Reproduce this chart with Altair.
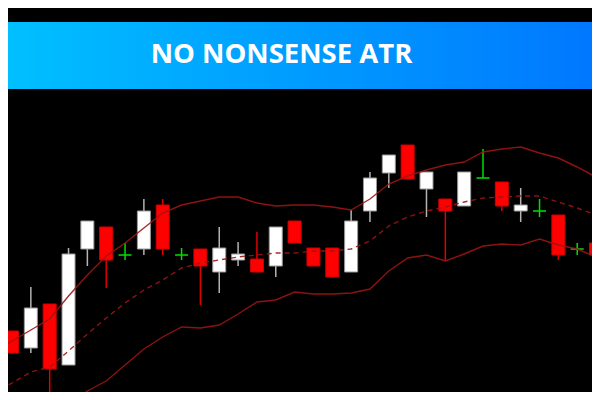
import altair as alt
import pandas as pd

# ---- data (price units arbitrary) ----
kind  = ["down","up","down","up","up","down","doji","up","down","doji",
         "down","up","up","down","up","down","down","down","up","up",
         "up","down","up","down","up","doji","down","up","doji","down",
         "doji","down"]
open_ = [69,52,96,35,151,173,145,151,195,145,
         151,128,140,141,134,179,152,152,128,189,
         227,255,211,201,194,222,218,189,189,185,
         151,157]
close = [47,92,31,146,179,140,145,189,151,145,
         134,152,146,128,173,157,134,123,179,222,
         245,221,228,189,228,222,194,195,189,145,
         151,145]
high  = [69,113,96,152,179,173,157,201,201,152,
         151,173,158,168,173,179,152,152,190,228,
         245,255,228,201,228,251,218,212,201,185,
         157,157]
low   = [47,47,-10,35,134,112,140,145,145,140,
         95,107,134,128,123,157,134,123,128,178,
         212,221,183,139,194,222,189,178,183,140,
         145,140]

line_idx = list(range(-1, 33))
upper = [49,59,70,81,104,125,144,157,172,187,195,199,203,203,197,194,195,
         195,193,190,201,216,224,230,235,238,248,251,253,247,242,233,223,214]
mid   = [6,17,28,33,49,66,82,97,110,120,132,137,140,143,145,147,147,149,
         149,151,159,174,183,189,193,198,202,203,204,204,198,192,185,179]
lower = [-45,-35,-25,-15,-5,9,19,35,51,63,73,72,75,86,98,100,108,106,106,
         107,111,129,142,145,139,146,154,156,155,161,155,151,143,137]

title_text = "NO NONSENSE ATR"

candles = pd.DataFrame({"i": list(range(len(kind))), "kind": kind,
                        "open": open_, "close": close, "high": high, "low": low})
bands = pd.DataFrame({"i": line_idx, "upper": upper, "mid": mid, "lower": lower})

W, H = 584, 384
xs = alt.Scale(domain=[-0.2123, 30.785], nice=False, zero=False, padding=0)
ys = alt.Scale(domain=[8, 392], nice=False, zero=False, padding=0)
X = alt.X("i:Q", scale=xs, axis=None)

wick_col = alt.Scale(domain=["up", "down", "doji"], range=["#B4B4B4", "#E00000", "#00E000"])
body_fill = alt.Scale(domain=["up", "down"], range=["#FFFFFF", "#FF0000"])
body_stroke = alt.Scale(domain=["up", "down"], range=["#9A9A9A", "#D00000"])

base = alt.Chart(candles)

wicks = base.mark_rule(strokeWidth=1.5, clip=True).encode(
    x=X,
    y=alt.Y("low:Q", scale=ys, axis=None),
    y2="high:Q",
    color=alt.Color("kind:N", scale=wick_col, legend=None),
)

bodies = base.transform_filter(alt.datum.kind != "doji").mark_bar(
    size=13, strokeWidth=1, clip=True
).encode(
    x=X,
    y=alt.Y("open:Q", scale=ys, axis=None),
    y2="close:Q",
    fill=alt.Fill("kind:N", scale=body_fill, legend=None),
    stroke=alt.Stroke("kind:N", scale=body_stroke, legend=None),
)

doji = base.transform_filter(alt.datum.kind == "doji").mark_tick(
    orient="horizontal", size=13, thickness=1.5, color="#00E000", opacity=1, clip=True
).encode(
    x=X,
    y=alt.Y("open:Q", scale=ys, axis=None),
)

lb = alt.Chart(bands)
line_col = "#9C1414"
up_line = lb.mark_line(color=line_col, strokeWidth=1.4, clip=True, opacity=0.9).encode(
    x=X, y=alt.Y("upper:Q", scale=ys, axis=None))
mid_line = lb.mark_line(color=line_col, strokeWidth=1.4, clip=True, opacity=0.9,
                        strokeDash=[5, 4]).encode(
    x=X, y=alt.Y("mid:Q", scale=ys, axis=None))
low_line = lb.mark_line(color=line_col, strokeWidth=1.4, clip=True, opacity=0.9).encode(
    x=X, y=alt.Y("lower:Q", scale=ys, axis=None))

one = alt.Data(values=[{"t": title_text}])
banner = alt.Chart(one).mark_rect(
    color=alt.Gradient(
        gradient="linear",
        stops=[alt.GradientStop(color="#00C0FF", offset=0),
               alt.GradientStop(color="#0078FF", offset=1)],
        x1=0, x2=1, y1=0, y2=0,
    )
).encode(x=alt.value(0), x2=alt.value(W), y=alt.value(14), y2=alt.value(81))

title = alt.Chart(one).mark_text(
    font="Open Sans", fontWeight="bold", fontSize=27.5, color="white",
    align="center", baseline="alphabetic"
).encode(x=alt.value(273.5), y=alt.value(55), text="t:N")

chart = alt.layer(
    banner, wicks, bodies, doji, up_line, mid_line, low_line, title
).properties(
    width=W, height=H, background="black", padding=0,
    autosize=alt.AutoSizeParams(type="none")
).configure_view(stroke=None)

chart.save("out.html", embed_options={"renderer": "svg", "actions": False})
